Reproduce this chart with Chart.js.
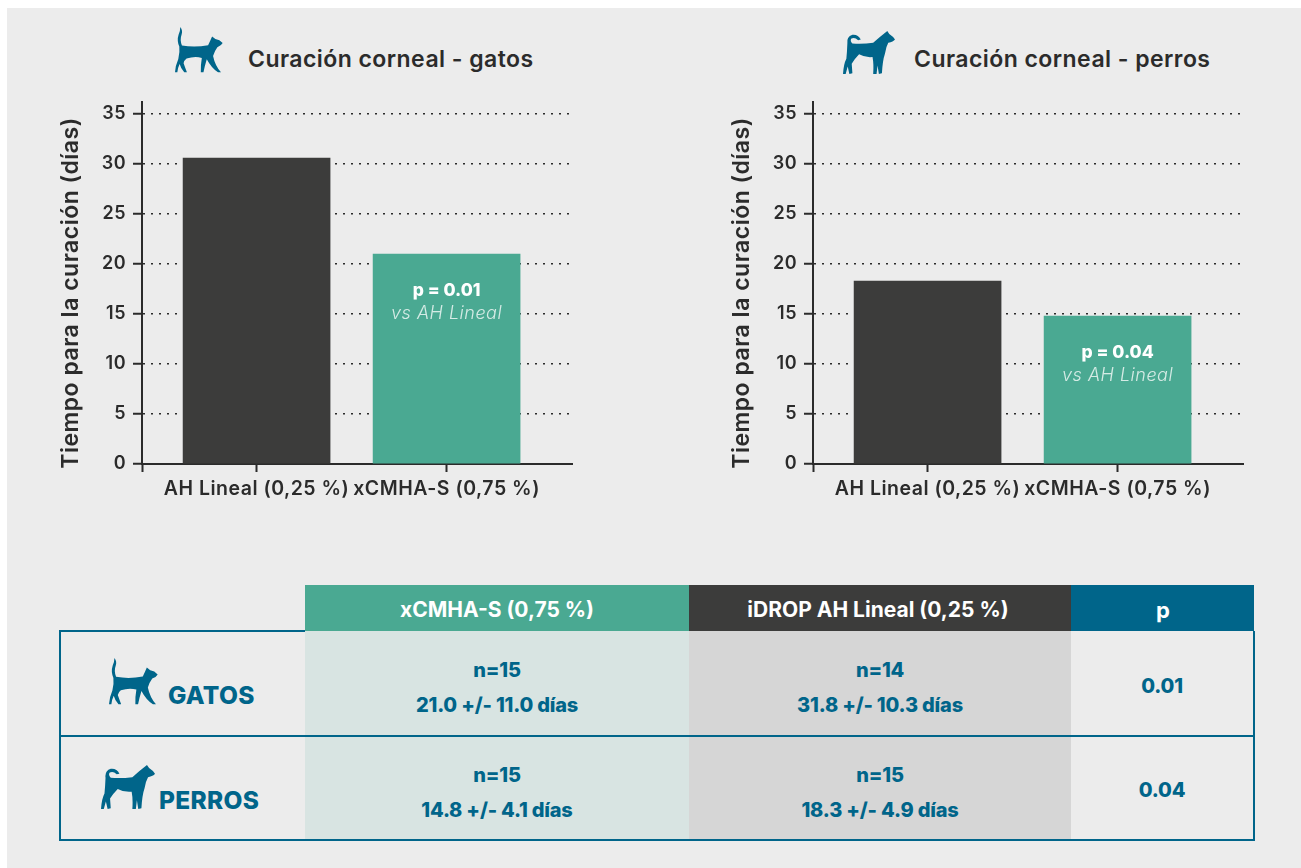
<!DOCTYPE html>
<html lang="es">
<head>
<meta charset="utf-8">
<title>Curación corneal</title>
<script src="https://cdn.jsdelivr.net/npm/chart.js@4/dist/chart.umd.min.js"></script>
<style>
    html, body { margin: 0; padding: 0; background: #fff; }
    body { width: 1301px; height: 868px; overflow: hidden; position: relative; font-family: Inter, sans-serif; }
    #panel { position: absolute; left: 7px; top: 8px; right: 0; bottom: 0; background: #ececec; }
    canvas { position: absolute; }
    svg { position: absolute; fill: #00658a; }
    .chart-title { position: absolute; font-size: 23px; letter-spacing: 0.45px; font-weight: 600; color: #2b2b2b; line-height: 30px; white-space: nowrap; }
    .fill { position: absolute; }
    .cell { position: absolute; transform: translate(-50%, -50%); white-space: nowrap; font-weight: 800; color: #00658a; font-size: 20px; letter-spacing: -0.2px; }
    .head { color: #fff; font-weight: 700; font-size: 21px; letter-spacing: 0; }
    .species { position: absolute; transform: translateY(-50%); font-weight: 800; font-size: 24.5px; letter-spacing: 0.3px; color: #00658a; }
    .rule { position: absolute; background: #00658a; }
</style>
</head>
<body>
<div id="panel"></div>

<svg width="0" height="0">
    <symbol id="cat" viewBox="405 50 145 137" preserveAspectRatio="none">
        <path d="M421,50 Q429,60 425,72 Q419,88 426,105 Q465,112 505,104 Q511,92 517,78 L527,86 Q540,88 549,98 Q545,106 533,110 Q524,122 520,136 Q526,165 544,185 L535,185 Q515,172 501,146 Q495,165 491,185 L483,185 Q482,165 486,142 Q465,136 440,144 Q432,150 431,158 Q436,172 441,185 L433,185 Q422,172 419,160 Q413,172 412,185 L405,185 Q406,165 415,145 Q420,125 418,108 Q410,90 416,72 Q421,62 421,50 Z"/>
    </symbol>
    <symbol id="dog" viewBox="40 33 155 127" preserveAspectRatio="none">
        <path d="M172,33 L178,42 Q190,50 195,58 Q190,65 175,68 Q168,80 165,100 Q158,120 156,158 L147,160 L143,135 L140,160 L130,160 Q132,130 128,110 Q105,112 88,102 Q75,115 66,130 L68,158 L59,160 L54,138 L48,160 L40,160 Q42,130 50,115 Q52,95 53,70 Q50,50 68,44 Q85,42 93,58 L85,60 Q75,50 65,55 Q60,62 68,70 Q100,72 130,68 Q150,50 172,33 Z"/>
    </symbol>
</svg>

<svg style="left:175px;top:27px" width="48" height="46"><use href="#cat"/></svg>
<div class="chart-title" style="left:248px;top:44px">Curación corneal - gatos</div>
<svg style="left:843px;top:31px" width="52" height="43"><use href="#dog"/></svg>
<div class="chart-title" style="left:914px;top:44px">Curación corneal - perros</div>

<canvas id="chart-gatos" width="570" height="420" style="left:40px;top:93px"></canvas>
<canvas id="chart-perros" width="570" height="420" style="left:711px;top:93px"></canvas>

<!-- results table -->
<div class="fill" style="left:305px;top:585px;width:384px;height:46px;background:#4aa992"></div>
<div class="fill" style="left:689px;top:585px;width:382px;height:46px;background:#3c3c3b"></div>
<div class="fill" style="left:1071px;top:585px;width:183px;height:46px;background:#00658a"></div>
<div class="fill" style="left:305px;top:631px;width:384px;height:208px;background:#d8e4e2"></div>
<div class="fill" style="left:689px;top:631px;width:382px;height:208px;background:#d6d6d6"></div>

<div class="rule" style="left:59px;top:630px;width:246px;height:2px"></div>
<div class="rule" style="left:59px;top:630px;width:2px;height:211px"></div>
<div class="rule" style="left:1253px;top:631px;width:2px;height:210px"></div>
<div class="rule" style="left:59px;top:839px;width:1196px;height:2px"></div>
<div class="rule" style="left:59px;top:735px;width:1196px;height:2px"></div>

<div class="cell head" style="left:497px;top:609px">xCMHA-S (0,75 %)</div>
<div class="cell head" style="left:878px;top:609px">iDROP AH Lineal (0,25 %)</div>
<div class="cell head" style="left:1163px;top:610px;font-size:22px">p</div>

<svg style="left:109px;top:658px" width="49" height="47"><use href="#cat"/></svg>
<div class="species" style="left:168px;top:695px">GATOS</div>
<svg style="left:101px;top:765px" width="54" height="44"><use href="#dog"/></svg>
<div class="species" style="left:159px;top:800px">PERROS</div>

<div class="cell" style="left:497px;top:670px">n=15</div>
<div class="cell" style="left:497px;top:705px">21.0 +/- 11.0 días</div>
<div class="cell" style="left:880px;top:670px">n=14</div>
<div class="cell" style="left:880px;top:705px">31.8 +/- 10.3 días</div>
<div class="cell" style="left:1162px;top:686px">0.01</div>

<div class="cell" style="left:497px;top:775px">n=15</div>
<div class="cell" style="left:497px;top:810px">14.8 +/- 4.1 días</div>
<div class="cell" style="left:880px;top:775px">n=15</div>
<div class="cell" style="left:880px;top:810px">18.3 +/- 4.9 días</div>
<div class="cell" style="left:1162px;top:790px">0.04</div>

<script>
const categories = ['AH Lineal (0,25 %)', 'xCMHA-S (0,75 %)'];
const gatosValues = [30.6, 21.0];
const perrosValues = [18.3, 14.8];
const yTicks = [0, 5, 10, 15, 20, 25, 30, 35];
const yTitle = 'Tiempo para la curación (días)';
const barColors = ['#3c3c3b', '#4aa992'];
const axisColor = '#2b2b2b';
const fontFamily = 'Inter, sans-serif';

// Wider tracking for all canvas text, the axis labels read better with it
const tracking = {
    id: 'tracking',
    beforeDraw(chart) {
        chart.ctx.letterSpacing = '0.5px';
    },
};

// Y axis title, sits a bit lower than the middle of the plot
const axisTitle = {
    id: 'axisTitle',
    afterDraw(chart) {
        const { ctx, chartArea } = chart;
        ctx.save();
        ctx.translate(chartArea.left - 71, (chartArea.top + chartArea.bottom) / 2 + 10);
        ctx.rotate(-Math.PI / 2);
        ctx.textAlign = 'center';
        ctx.textBaseline = 'middle';
        ctx.letterSpacing = '0.5px';
        ctx.fillStyle = axisColor;
        ctx.font = `600 23px ${fontFamily}`;
        ctx.fillText(yTitle, 0, 0);
        ctx.restore();
    },
};

// Writes the p value inside the second bar, just below its top
const pNote = (text) => ({
    id: 'pNote',
    afterDatasetsDraw(chart) {
        const bar = chart.getDatasetMeta(0).data[1];
        const ctx = chart.ctx;
        ctx.save();
        ctx.textAlign = 'center';
        ctx.textBaseline = 'middle';
        ctx.letterSpacing = '0px';
        ctx.fillStyle = '#ffffff';
        ctx.font = `800 17.5px ${fontFamily}`;
        ctx.fillText(text, bar.x, bar.y + 37);
        ctx.letterSpacing = '0.5px';
        ctx.fillStyle = '#d5ebe5';
        ctx.font = `italic 300 18px ${fontFamily}`;
        ctx.fillText('vs AH Lineal', bar.x, bar.y + 60);
        ctx.restore();
    },
});

function drawChart(canvasId, values, pText) {
    return new Chart(document.getElementById(canvasId), {
        type: 'bar',
        data: {
            datasets: [
                {
                    data: values.map((value, index) => ({ x: index + 1, y: value })),
                    backgroundColor: barColors,
                    barThickness: 147,
                },
            ],
        },
        options: {
            responsive: false,
            animation: false,
            layout: { padding: { top: 9, right: 38, left: 0, bottom: 0 } },
            plugins: {
                legend: { display: false },
                tooltip: { enabled: false },
            },
            scales: {
                x: {
                    type: 'linear',
                    offset: false,
                    min: 0.397,
                    max: 2.66,
                    afterBuildTicks: (axis) => {
                        axis.ticks = [{ value: 0.397 }, { value: 1 }, { value: 2 }];
                    },
                    afterFit: (axis) => {
                        axis.height = 49;
                        axis.paddingLeft = 0;
                        axis.paddingRight = 0;
                    },
                    border: { color: axisColor, width: 2 },
                    grid: {
                        offset: false,
                        drawOnChartArea: false,
                        tickLength: 8,
                        tickWidth: 2,
                        tickColor: axisColor,
                    },
                    ticks: {
                        autoSkip: false,
                        maxRotation: 0,
                        minRotation: 0,
                        padding: 5,
                        color: axisColor,
                        font: { family: fontFamily, size: 19.5, weight: '600' },
                        callback: (value) => categories[value - 1] ?? '',
                    },
                },
                y: {
                    min: 0,
                    max: 36.2,
                    afterBuildTicks: (axis) => {
                        axis.ticks = yTicks.map((value) => ({ value }));
                    },
                    afterFit: (axis) => {
                        axis.width = 102;
                        axis.paddingTop = 0;
                        axis.paddingBottom = 0;
                    },
                    border: { color: axisColor, width: 2, dash: [2, 6] },
                    grid: {
                        color: axisColor,
                        lineWidth: 1.5,
                        tickLength: 9,
                        tickWidth: 2,
                        tickColor: axisColor,
                        tickBorderDash: [],
                    },
                    ticks: {
                        padding: 7,
                        color: axisColor,
                        font: { family: fontFamily, size: 18, weight: '600' },
                    },
                },
            },
        },
        plugins: [tracking, axisTitle, pNote(pText)],
    });
}

drawChart('chart-gatos', gatosValues, 'p = 0.01');
drawChart('chart-perros', perrosValues, 'p = 0.04');
</script>
</body>
</html>
